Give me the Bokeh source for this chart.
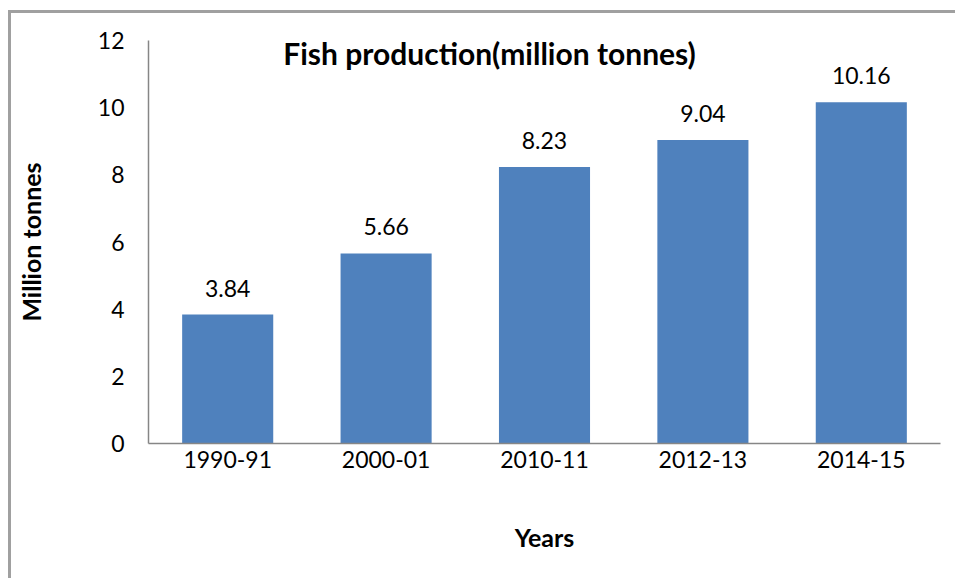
from bokeh.plotting import figure
from bokeh.models import ColumnDataSource, LabelSet, Label
from bokeh.embed import file_html
from bokeh.resources import INLINE
from bokeh.core.properties import value

years = ["1990-91", "2000-01", "2010-11", "2012-13", "2014-15"]
production = [3.84, 5.66, 8.23, 9.04, 10.16]
labels = ["3.84", "5.66", "8.23", "9.04", "10.16"]
y_ticks = [0, 2, 4, 6, 8, 10, 12]

FONT = "Lato"
src = ColumnDataSource(dict(x=years, y=production, lab=labels))

# canvas starts at (11, 13) in the window because of the outer chart border
p = figure(x_range=years, y_range=(0, 12), width=947, height=568,
           output_backend="svg", toolbar_location=None,
           min_border_left=137, min_border_right=18, min_border_top=27, min_border_bottom=138,
           styles={"margin-left": "8px", "margin-top": "10px",
                   "border-left": "3px solid #a0a0a0", "border-top": "3px solid #a0a0a0"})
p.outline_line_color = None
p.background_fill_color = "white"
p.border_fill_color = "white"
p.xgrid.grid_line_color = None
p.ygrid.grid_line_color = None

p.vbar(x="x", top="y", width=0.575, source=src, fill_color="#4F81BD", line_color=None)

p.add_layout(LabelSet(x="x", y="y", text="lab", source=src, y_offset=18,
                      text_align="center", text_baseline="alphabetic",
                      text_font=value(FONT), text_font_size="23px", text_color="black"))

p.add_layout(Label(x=2.153, y=11.64, text="Fish production(million tonnes)",
                   text_align="center", text_baseline="middle",
                   text_font=FONT, text_font_style="bold",
                   text_font_size="30px", text_color="black"))

for ax in (p.xaxis[0], p.yaxis[0]):
    ax.axis_line_color = "#868686"
    ax.axis_line_width = 1.5
    ax.major_tick_line_color = None
    ax.minor_tick_line_color = None
    ax.major_label_text_font = FONT
    ax.major_label_text_font_size = "23px"
    ax.major_label_text_color = "black"
    ax.axis_label_text_font = FONT
    ax.axis_label_text_font_style = "bold"
    ax.axis_label_text_font_size = "25px"
    ax.axis_label_text_color = "black"

p.yaxis.ticker = y_ticks
p.yaxis.major_label_standoff = 18
p.yaxis.axis_label = "Million tonnes"
p.yaxis.axis_label_standoff = 49
p.xaxis.major_label_standoff = 1
p.xaxis.axis_label = "Years"
p.xaxis.axis_label_standoff = 51

open("out.html", "w").write(file_html(p, INLINE))
